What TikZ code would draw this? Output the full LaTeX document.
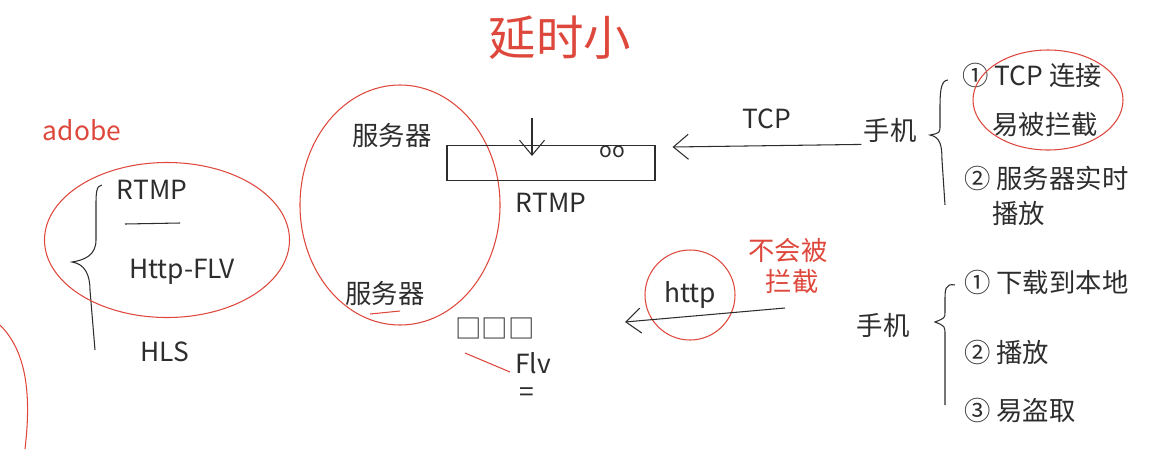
\documentclass[tikz,border=0pt]{standalone}
\usepackage{fontspec}
\setmainfont{Noto Sans CJK SC}
\usepackage{tikz}
\usetikzlibrary{arrows.meta}
\usetikzlibrary{positioning}
\definecolor{ink}{RGB}{45,45,45}
\definecolor{pen}{RGB}{222,72,60}
\tikzstyle{txt}    = [inner sep=1pt,text=ink,font=\fontsize{15}{17}\selectfont]
\tikzstyle{redtxt} = [txt,text=pen]
\tikzstyle{item}   = [txt,anchor=west]
\tikzstyle{redline}= [pen,semithick]

\begin{document}
\begin{tikzpicture}[x=0.2mm,y=-0.2mm,>={Straight Barb[length=3mm,width=5mm]},semithick,ink]
\useasboundingbox (0,0) rectangle (1156,449);

\node[redtxt,font=\fontsize{27}{30}\selectfont] (title) at (560,38) {延时小};

% left: protocols
\node[redtxt] (adobe) at (82,130) {adobe};
\node[txt] (rtmpL)   at (152,190) {RTMP};
\node[txt] (httpflv) at (182,272) {Http-FLV};
\node[txt] (hls)     at (165,352) {HLS};
\draw (125,224) -- (180,223);
\draw (102,185) .. controls (96,185) and (96,195) .. (96,205) -- (96,240)
      .. controls (96,255) and (85,260) .. (72,262)
      .. controls (85,264) and (90,275) .. (90,290) -- (95,350);
\draw[redline] (167,240) ellipse [x radius=24.5mm, y radius=15.5mm];
\draw[redline] (0,325) .. controls (25,350) and (32,390) .. (25,449);

% middle: servers
\node[txt] (server1) at (392,135) {服务器};
\node[txt] (server2) at (385,293) {服务器};
\draw[redline] (400,205) ellipse [x radius=20mm, y radius=24mm];
\draw[redline] (370,314) -- (400,311);

\node[draw,minimum width=41.6mm,minimum height=7mm,inner sep=0pt] (stream) at (551,163) {};
\node[txt,font=\fontsize{12}{14}\selectfont] (dots) at (612,152) {oo};
\coordinate (drop) at (532,118);
\draw[->] (drop) -- ++(0,38);
\node[txt] (rtmpM) [below=2mm of stream] {RTMP};

\node[txt] (frames) at (495,328) {□□□};
\node[txt] (flv) at (533,363) {Flv};
\node[txt] (eq)  at (527,395) {=};
\draw[redline] (465,353) -- (510,372);

% top right: phone over TCP
\node[txt] (phone1) at (890,130) {手机};
\draw[->] (phone1.south west) -- ([xshift=3.4mm,yshift=3.2mm]stream.east)
      node[txt,midway,above=3mm] (tcp) {TCP};
\draw (948,80) .. controls (940,80) and (940,95) .. (940,110) -- (940,125)
      .. controls (940,133) .. (930,135)
      .. controls (940,137) and (942,145) .. (942,160) -- (945,205);
\node[item] (tcpconn)  at (960,75)  {① TCP 连接};
\node[item] (block)    at (990,125) {易被拦截};
\draw[redline] (1048,100) ellipse [x radius=15mm, y radius=10mm];
\node[item] (realtime) at (962,178) {② 服务器实时};
\node[item] (play1)    at (990,213) {播放};

% bottom right: phone over http
\node[redtxt] (noblock1) at (788,250) {不会被};
\node[redtxt] (noblock2) at (792,282) {拦截};
\node[txt] (http) at (690,295) {http};
\draw[redline] (http) circle (9mm);
\node[txt] (phone2) at (883,325) {手机};
\coordinate (src2) at (785,308);
\coordinate (dst2) at (625,322);
\draw[->] (src2) -- (dst2);
\draw (955,285) .. controls (945,283) and (945,290) .. (945,300) -- (945,312)
      .. controls (945,318) .. (935,322)
      .. controls (945,326) .. (945,335) -- (945,405);
\node[item] (download) at (962,282) {① 下载到本地};
\node[item] (play2)    at (962,352) {② 播放};
\node[item] (steal)    at (962,410) {③ 易盗取};

\end{tikzpicture}
\end{document}
